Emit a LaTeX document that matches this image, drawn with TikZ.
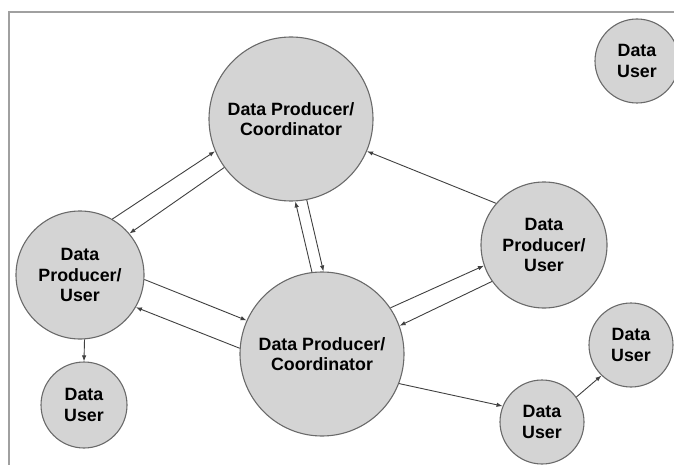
\documentclass[tikz,border=0pt]{standalone}
\usepackage{fontspec}
\setmainfont{Liberation Sans}
\usetikzlibrary{arrows.meta}
\definecolor{discfill}{HTML}{D4D4D4}
\definecolor{discline}{HTML}{6A6A6A}
\definecolor{framegray}{HTML}{A0A0A0}
\tikzset{
  disc/.style={circle,draw=discline,line width=1.1pt,fill=discfill,inner sep=0pt,
    align=center,font=\fontsize{17.8}{20.5}\selectfont\bfseries},
  flow/.style={-{Latex[length=6pt,width=4.5pt]},line width=0.9pt,draw=black!75}
}
\begin{document}
\begin{tikzpicture}[x=1pt,y=-1pt]
      \useasboundingbox (0,0) rectangle (674,465);
      \draw[framegray,line width=1.5pt] (9,465) -- (9,12) -- (674,12);
      \draw
        (291,119) node[disc,minimum size=164pt] (tc){Data Producer/\\Coordinator}
        (322,354) node[disc,minimum size=164pt] (bc){Data Producer/\\Coordinator}
        (80,275) node[disc,minimum size=128pt] (lpu){Data\\Producer/\\User}
        (544,245) node[disc,minimum size=126pt] (rpu){Data\\Producer/\\User}
        (84,405) node[disc,minimum size=86pt] (ldu){Data\\User}
        (637,61) node[disc,minimum size=84pt] (tdu){Data\\User}
        (631,345) node[disc,minimum size=84pt] (rdu){Data\\User}
        (542,422) node[disc,minimum size=84pt] (bdu){Data\\User};
      \begin{scope}[flow]
        \draw (lpu.60) to (tc.203);
        \draw (tc.216) to (lpu.40);
        \draw (rpu.139) to (tc.-23);
        \draw (bc.97) to (tc.-87);
        \draw (tc.-79) to (bc.89);
        \draw (lpu.-4) to (bc.156);
        \draw (bc.176) to (lpu.-30);
        \draw (bc.34) to (rpu.199);
        \draw (rpu.215) to (bc.20);
        \draw (lpu.-86) to (ldu.north);
        \draw (bc.-21) to (bdu.158);
        \draw (bdu.36) to (rdu.226);
      \end{scope}
\end{tikzpicture}
\end{document}
